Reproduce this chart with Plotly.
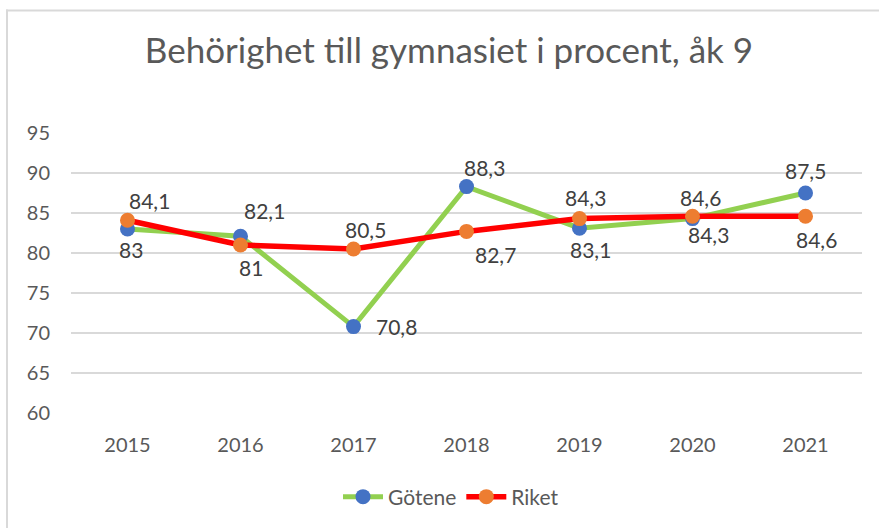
import plotly.graph_objects as go

years = ["2015", "2016", "2017", "2018", "2019", "2020", "2021"]
gotene = [83, 82.1, 70.8, 88.3, 83.1, 84.3, 87.5]
riket = [84.1, 81, 80.5, 82.7, 84.3, 84.6, 84.6]
y_ticks = [60, 65, 70, 75, 80, 85, 90, 95]

# label offsets in pixels (xshift, yshift)
gotene_label_shift = [(3, -20), (24, 26), (43, 0), (18, 19), (11, -21), (16, -16), (0, 23)]
riket_label_shift = [(22, 20), (10, -22), (12, 20), (29, -23), (6, 21), (8, 19), (11, -23)]

W, H = 879, 528
L, R, T, B = 71, 17, 133, 114
pw, ph = W - L - R, H - T - B

FONT = "Lato"


def fmt(v):
    return ("%g" % v).replace(".", ",")


fig = go.Figure()
fig.add_trace(go.Scatter(
    x=years, y=gotene, name="Götene", mode="lines+markers",
    line=dict(color="#92d050", width=5),
    marker=dict(color="#4472c4", size=15),
))
fig.add_trace(go.Scatter(
    x=years, y=riket, name="Riket", mode="lines+markers",
    line=dict(color="#ff0000", width=5.5),
    marker=dict(color="#ed7d31", size=15),
))

for vals, shifts in ((gotene, gotene_label_shift), (riket, riket_label_shift)):
    for i, (yv, (dx, dy)) in enumerate(zip(vals, shifts)):
        fig.add_annotation(
            x=i, y=yv, xref="x", yref="y", text=fmt(yv), showarrow=False,
            xshift=dx, yshift=dy, font=dict(family=FONT, size=21, color="#404040"),
        )


def px_x(p):
    return (p - L) / pw


def px_y(p):
    return (H - B - p) / ph


fig.add_shape(type="line", xref="paper", yref="paper", x0=px_x(7), x1=px_x(7), y0=px_y(9), y1=px_y(H + 5),
              line=dict(color="#d9d9d9", width=2))
fig.add_shape(type="line", xref="paper", yref="paper", x0=px_x(6), x1=px_x(W + 5), y0=px_y(10), y1=px_y(10),
              line=dict(color="#d9d9d9", width=2))

fig.update_layout(
    width=W, height=H,
    margin=dict(l=L, r=R, t=T, b=B),
    paper_bgcolor="white", plot_bgcolor="white",
    title=dict(text="Behörighet till gymnasiet i procent, åk 9", x=449 / W, xanchor="center",
               y=1 - 51 / H, yanchor="middle", yref="container",
               font=dict(family=FONT, size=35, color="#595959")),
    xaxis=dict(type="category", range=[-0.5, 6.5], showgrid=False, zeroline=False, showline=False,
               tickfont=dict(family=FONT, size=20, color="#595959"), ticks="", ticklabelstandoff=18),
    yaxis=dict(range=[60, 95], tickvals=y_ticks, showgrid=True, gridcolor="#d9d9d9", gridwidth=1.5,
               zeroline=False, showline=False,
               tickfont=dict(family=FONT, size=20, color="#595959"), ticks="", ticklabelstandoff=20),
    legend=dict(orientation="h", x=px_x(451), xanchor="center", y=px_y(497), yanchor="middle",
                font=dict(family=FONT, size=21, color="#595959"), itemwidth=40, traceorder="normal"),
    showlegend=True,
)

fig.write_html("out.html", config={"displayModeBar": False},
               post_script="document.body.style.margin='0';")
